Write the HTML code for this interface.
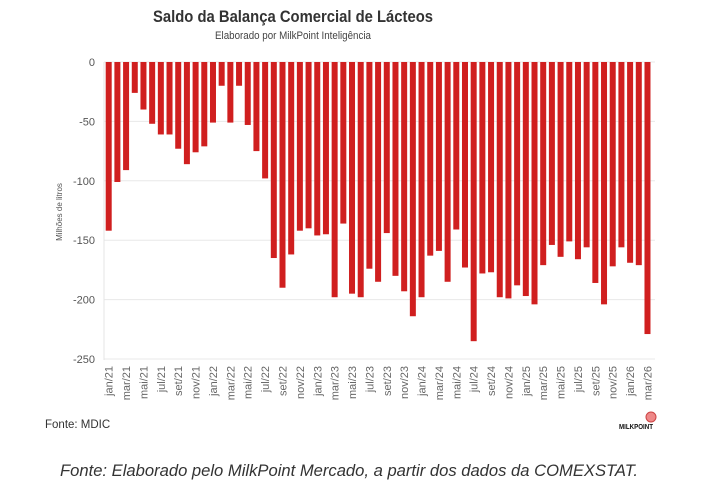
<!DOCTYPE html>
<html><head><meta charset="utf-8"><style>
body{margin:0;background:#fff;width:718px;height:490px;overflow:hidden}
svg{display:block;font-family:"Liberation Sans",sans-serif}
</style></head><body>
<svg width="718" height="490" viewBox="0 0 718 490" xmlns="http://www.w3.org/2000/svg" id="s">
<text x="293" y="22" text-anchor="middle" font-size="17" font-weight="bold" fill="#333" textLength="280" lengthAdjust="spacingAndGlyphs">Saldo da Balança Comercial de Lácteos</text>
<text x="293" y="39" text-anchor="middle" font-size="11" fill="#444" textLength="156" lengthAdjust="spacingAndGlyphs">Elaborado por MilkPoint Inteligência</text>
<g id="grid"></g>
<g id="bars"></g>
<g id="xl" font-size="11" fill="#666"></g>
<text transform="translate(62,212) rotate(-90)" text-anchor="middle" font-size="8" fill="#555">Milhões de litros</text>
<text x="45" y="428" font-size="11.5" fill="#333">Fonte: MDIC</text>
<circle cx="651" cy="417" r="5" fill="#e88" stroke="#c44" stroke-width="1"/>
<text x="619" y="429" font-size="7" font-weight="bold" fill="#111" textLength="34" lengthAdjust="spacingAndGlyphs">MILKPOINT</text>
<text x="349" y="476" text-anchor="middle" font-size="16.5" font-style="italic" fill="#333" textLength="578" lengthAdjust="spacingAndGlyphs">Fonte: Elaborado pelo MilkPoint Mercado, a partir dos dados da COMEXSTAT.</text>
</svg>
<script>
var v=[-142,-101,-91,-26,-40,-52,-61,-61,-73,-86,-76,-71,
-51,-20,-51,-20,-53,-75,-98,-165,-190,-162,-142,-140,
-146,-145,-198,-136,-195,-198,-174,-185,-144,-180,-193,-214,
-198,-163,-159,-185,-141,-173,-235,-178,-177,-198,-199,-188,
-197,-204,-171,-154,-164,-151,-166,-156,-186,-204,-172,-156,
-169,-171,-229];
var m=["jan","fev","mar","abr","mai","jun","jul","ago","set","out","nov","dez"];
var ns="http://www.w3.org/2000/svg";
function el(t,a,p,tx){var e=document.createElementNS(ns,t);for(var k in a)e.setAttribute(k,a[k]);if(tx)e.textContent=tx;document.getElementById(p).appendChild(e);}
var y0=62,k=297/250;
for(var g=0;g<=250;g+=50){var y=y0+g*k;
el("line",{x1:104,x2:655,y1:y,y2:y,stroke:"#e8e8e8","stroke-width":1},"grid");
el("text",{x:95,y:y+4,"text-anchor":"end","font-size":11,fill:"#555"},"grid",g?"-"+g:"0");}
el("line",{x1:104,x2:104,y1:62,y2:360,stroke:"#e4e4e4"},"grid");
for(var i=0;i<v.length;i++){var x=105.7+i*8.69;
el("rect",{x:x,y:y0,width:6,height:-v[i]*k,fill:"#d01f1f"},"bars");
if(i%2==0){var cx=x+3+4,lab=m[i%12]+"/"+(21+Math.floor(i/12));
el("text",{transform:"translate("+cx+",366) rotate(-90)","text-anchor":"end"},"xl",lab);}}
</script>
</body></html>
